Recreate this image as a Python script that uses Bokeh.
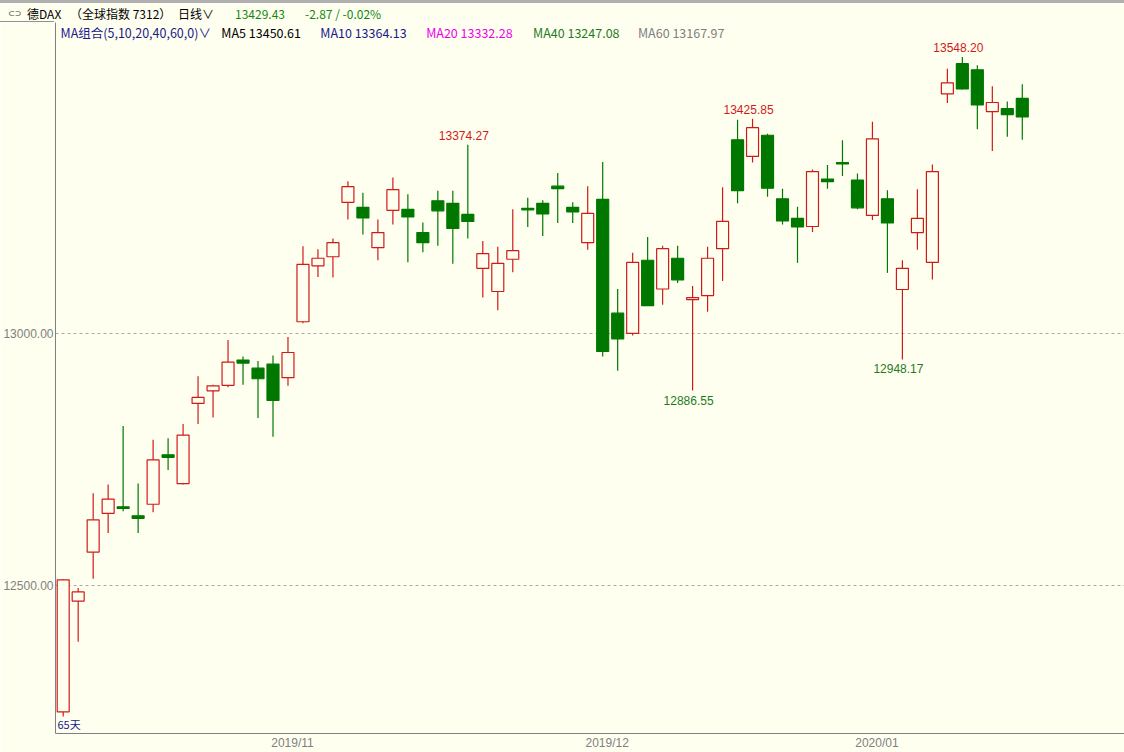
from bokeh.plotting import figure
from bokeh.layouts import column
from bokeh.models import ColumnDataSource, FixedTicker, NumeralTickFormatter, Label, Range1d, Div
from bokeh.embed import file_html
from bokeh.resources import INLINE
from bokeh.core.properties import value

# ---------------- data (DAX daily, 65 trading days) ----------------
opens = [12249, 12469, 12566, 12643, 12656, 12638, 12661, 12759, 12702, 12861,
         12886, 12897, 12947, 12931, 12939, 12912, 13023, 13134, 13152, 13260,
         13250, 13170, 13244, 13246, 13200, 13263, 13258, 13236, 13129, 13083,
         13147, 13248, 13258, 13292, 13250, 13180, 13266, 13040, 13000, 13145,
         13088, 13149, 13067, 13075, 13168, 13384, 13351, 13393, 13267, 13228,
         13212, 13306, 13339, 13304, 13234, 13267, 13087, 13200, 13141, 13475,
         13535, 13523, 13440, 13446, 13466]
highs = [12512, 12495, 12683, 12700, 12816, 12702, 12789, 12792, 12820, 12915,
         12898, 12987, 12954, 12945, 12956, 12993, 13173, 13167, 13188, 13302,
         13279, 13226, 13309, 13276, 13220, 13283, 13283, 13374.27, 13183, 13172,
         13246, 13269, 13264, 13318, 13260, 13292, 13340, 13088, 13160, 13191,
         13174, 13174, 13094, 13172, 13290, 13424, 13425.85, 13396, 13287, 13251,
         13325, 13334, 13383, 13317, 13420, 13284, 13145, 13286, 13335, 13525,
         13548.20, 13532, 13490, 13460, 13494]
lows = [12240, 12388, 12513, 12604, 12647, 12604, 12645, 12729, 12700, 12820,
        12833, 12893, 12898, 12832, 12795, 12896, 13020, 13112, 13111, 13226,
        13196, 13145, 13216, 13141, 13161, 13174, 13138, 13188, 13071, 13046,
        13121, 13211, 13193, 13219, 13219, 13166, 12954, 12926, 12996, 13055,
        13057, 13100, 12886.55, 13043, 13104, 13258, 13339, 13271, 13216, 13140,
        13201, 13287, 13312, 13246, 13225, 13120, 12948.17, 13166, 13107, 13457,
        13484, 13405, 13362, 13390, 13384]
closes = [12511, 12487, 12630, 12671, 12653, 12633, 12749, 12754, 12798, 12873,
          12896, 12943, 12941, 12910, 12867, 12962, 13137, 13149, 13180, 13291,
          13229, 13200, 13285, 13231, 13180, 13243, 13208, 13222, 13158, 13139,
          13164, 13245, 13237, 13287, 13241, 13238, 12964, 12989, 13141, 13055,
          13168, 13106, 13071, 13149, 13222, 13283, 13408, 13288, 13223, 13211,
          13321, 13301, 13336, 13249, 13386, 13219, 13129, 13228, 13321, 13497,
          13485, 13453, 13458, 13434, 13429.43]

month_start_idx = [15, 36, 54]
month_labels = ["2019/11", "2019/12", "2020/01"]
y_ticks = [12500, 13000]

high_marks = [27, 46, 60]     # candles whose high is annotated
low_marks = [42, 56]          # candles whose low is annotated

header_texts = ["⊂⊃", "德DAX", "（全球指数 7312）", "日线∨", "13429.43", "-2.87 / -0.02%"]
header_colors = ["#333333", "#000000", "#000000", "#000000", "#118811", "#118811"]
ma_texts = ["MA组合(5,10,20,40,60,0)∨", "MA5 13450.61", "MA10 13364.13",
            "MA20 13332.28", "MA40 13247.08", "MA60 13167.97"]
ma_colors = ["#1a1a8c", "#000000", "#1a1a8c", "#ee00ee", "#1e7b1e", "#808080"]
day_count_label = "65天"

# ---------------- style / geometry ----------------
BG = "#FFFFF0"
RED = "#D01A1A"
GREEN = "#007800"
GRAY = "#808080"
PX0, PXS = 61.7, 15.0          # page x of first candle, px per candle
PY_REF, V_REF, VPP = 333.3, 13000.0, 1.981  # page y of 13000, points per px
LABEL_SHIFT = 0.3              # month labels sit slightly right of the month's first candle

W, H = 1124, 752
HEAD = 22                      # header strip height
LEFT, BOTTOM = 54, 18


def dx(px):
    return (px - PX0) / PXS


def dy(py):
    return V_REF - (py - PY_REF) * VPP


# ---------------- header strip (HTML text) ----------------
header_x = [8, 27, 70, 178, 235, 305]
header_font = ["font-family:'DejaVu Sans';font-size:8px;", "", "", "", "", ""]
spans = "".join(
    f'<span style="position:absolute;left:{x}px;top:2px;line-height:17px;'
    f'color:{c};white-space:nowrap;{f}">{t}</span>'
    for t, c, x, f in zip(header_texts, header_colors, header_x, header_font))
header_html = (
    f'<div style="position:relative;width:{W}px;height:{HEAD}px;box-sizing:border-box;'
    f'background:{BG};border-top:3px solid #B0B0B0;overflow:hidden;'
    f"font-family:'Noto Sans CJK SC',sans-serif;font-size:12px;\">"
    f'{spans}'
    f'<div style="position:absolute;left:0;top:18px;width:{LEFT}px;height:0;'
    f'border-top:1px solid #909090;"></div>'
    f'</div>')
header = Div(text=header_html, width=W, height=HEAD, margin=0)

# ---------------- main candle chart ----------------
p = figure(width=W, height=H - HEAD, title=None, toolbar_location=None, output_backend="svg",
           x_range=Range1d(dx(LEFT), dx(W)), y_range=Range1d(dy(H - BOTTOM), dy(HEAD)),
           min_border_left=LEFT, min_border_right=0, min_border_top=0,
           min_border_bottom=BOTTOM,
           background_fill_color=BG, border_fill_color=BG)
p.outline_line_color = None

n = len(opens)
up = [c >= o for o, c in zip(opens, closes)]
src = ColumnDataSource(dict(
    x=list(range(n)), h=highs, l=lows,
    top=[max(o, c) for o, c in zip(opens, closes)],
    bottom=[min(o, c) for o, c in zip(opens, closes)],
    color=[RED if u else GREEN for u in up],
    fill=[BG if u else GREEN for u in up],
))
p.segment("x", "h", "x", "l", source=src, line_color="color", line_width=1.2)
p.vbar(x="x", width=0.8, top="top", bottom="bottom", source=src,
       fill_color="fill", line_color="color", line_width=1.2)

# extreme annotations
p.text(x=high_marks, y=[highs[i] for i in high_marks],
       text=[f"{highs[i]:.2f}" for i in high_marks],
       text_align="center", text_baseline="bottom", x_offset=-4, y_offset=-5,
       text_color=RED, text_font=value("Liberation Sans"), text_font_size="12px")
p.text(x=low_marks, y=[lows[i] for i in low_marks],
       text=[f"{lows[i]:.2f}" for i in low_marks],
       text_align="center", text_baseline="top", x_offset=-4, y_offset=5,
       text_color="#1e7b1e", text_font=value("Liberation Sans"), text_font_size="12px")

# axes
p.yaxis.ticker = FixedTicker(ticks=y_ticks)
p.yaxis.formatter = NumeralTickFormatter(format="0.00")
p.yaxis.major_tick_out = 0
p.yaxis.major_tick_in = 0
p.yaxis.minor_tick_out = 0
p.yaxis.minor_tick_in = 0
p.yaxis.major_label_standoff = 2
p.yaxis.axis_line_color = GRAY
p.yaxis.major_label_text_color = GRAY
p.yaxis.major_label_text_font = "Liberation Sans"
p.yaxis.major_label_text_font_size = "12px"

x_tick_pos = [m + LABEL_SHIFT for m in month_start_idx]
p.xaxis.ticker = FixedTicker(ticks=x_tick_pos)
p.xaxis.major_label_overrides = {t: lab for t, lab in zip(x_tick_pos, month_labels)}
p.xaxis.major_tick_out = 0
p.xaxis.major_tick_in = 0
p.xaxis.minor_tick_out = 0
p.xaxis.minor_tick_in = 0
p.xaxis.major_label_standoff = 2
p.xaxis.axis_line_color = GRAY
p.xaxis.major_label_text_color = GRAY
p.xaxis.major_label_text_font = "Liberation Sans"
p.xaxis.major_label_text_font_size = "12px"

p.xgrid.visible = False
p.ygrid.grid_line_color = "#AAAAAA"
p.ygrid.grid_line_dash = "3 3"

# MA legend row and day count (page-pixel anchors)
ma_x = [59, 220, 319, 425, 532, 637]
for txt, col, xpx in zip(ma_texts, ma_colors, ma_x):
    p.add_layout(Label(x=dx(xpx), y=dy(32), text=txt, text_color=col,
                       text_font="Noto Sans CJK SC", text_font_size="12.5px",
                       text_align="left", text_baseline="middle"))
p.add_layout(Label(x=dx(56), y=dy(724), text=day_count_label, text_color="#1a1a8c",
                   text_font="Noto Sans CJK SC", text_font_size="11px",
                   text_align="left", text_baseline="middle"))

layout = column(header, p, spacing=0)
open("out.html", "w").write(file_html(layout, INLINE))
